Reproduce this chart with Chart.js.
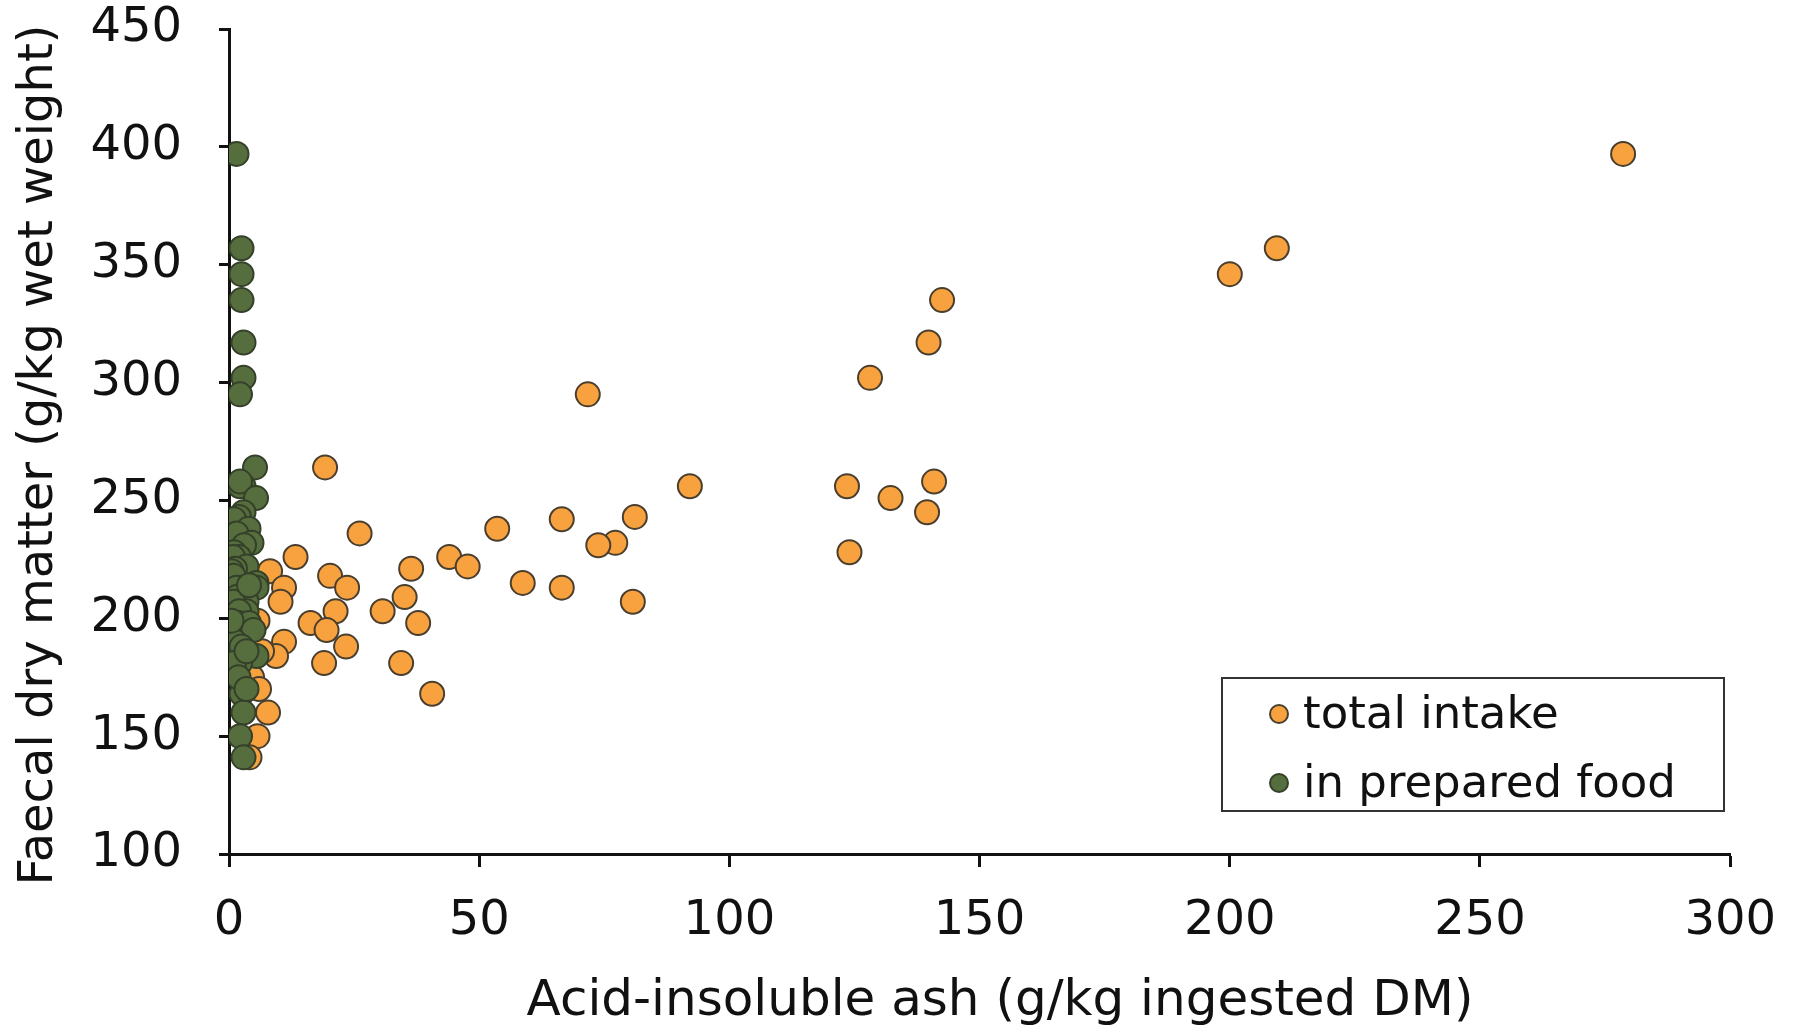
<!DOCTYPE html>
<html>
<head>
<meta charset="utf-8">
<script src="https://cdn.jsdelivr.net/npm/chart.js@4.4.1/dist/chart.umd.min.js"></script>
<style>
  body { margin: 0; background: #fff; }
  canvas { display: block; }
</style>
</head>
<body>
<canvas id="ashChart" width="1802" height="1029"></canvas>
<script>
// faecal dry matter (g/kg wet weight), one value per sample
const faecalDM = [397, 357, 346, 335, 317, 302, 295, 264, 256, 256, 258, 251, 245, 243, 242,
  238, 236, 232, 231, 228, 226, 226, 222, 221, 220, 218, 215, 213, 213, 213, 209, 207, 207,
  203, 203, 198, 198, 195, 190, 184, 188, 181, 181, 168, 186, 160, 150, 175, 199, 214, 170, 141];

// acid-insoluble ash from total intake (g/kg ingested DM)
const totalIntake = [278.6, 209.4, 200, 142.5, 139.8, 128.1, 71.7, 19.2, 92.1, 123.5, 140.9, 132.2,
  139.5, 81.1, 66.5, 53.6, 26.1, 77.2, 73.8, 124, 44, 13.3, 47.7, 36.4, 8.2, 20.2, 58.7, 66.5,
  23.6, 11, 35.1, 80.7, 10.3, 21.3, 30.7, 37.8, 16.3, 19.5, 11, 9.4, 23.4, 19, 34.4, 40.6, 6.6,
  7.8, 5.7, 4.6, 5.7, 4.4, 6, 4.1];

// acid-insoluble ash in prepared food (g/kg ingested DM)
const preparedFood = [1.5, 2.5, 2.5, 2.5, 2.9, 2.9, 2.2, 5.2, 2.9, 2.2, 2.2, 5.4, 2.9, 2.0, 1.0,
  3.9, 1.5, 4.5, 3.0, 1.0, 2.0, 0.8, 3.5, 1.2, 0.5, 0.9, 5.5, 5.5, 2.5, 1.5, 1.5, 3.5, 0.8,
  3.5, 2.0, 1.9, 4.0, 4.9, 1.2, 5.5, 2.5, 2.2, 1.0, 2.5, 3.5, 2.9, 2.2, 1.9, 0.5, 4.0, 3.5, 2.9];

const xTicks = [0, 50, 100, 150, 200, 250, 300];
const yTicks = [100, 150, 200, 250, 300, 350, 400, 450];

const seriesNames = ["total intake", "in prepared food"];
const xTitle = "Acid-insoluble ash (g/kg ingested DM)";
const yTitle = "Faecal dry matter (g/kg wet weight)";

function toPoints(xs, ys) {
  return xs.map((x, i) => ({ x: x, y: ys[i] }));
}

// boxed legend inside the plot plus both axis titles (both sit a bit off centre)
const boxLegend = {
  id: "boxLegend",
  afterDraw(chart) {
    const ctx = chart.ctx;
    ctx.save();
    ctx.fillStyle = "#fff";
    ctx.fillRect(1222, 678, 502, 133);
    ctx.strokeStyle = "#333";
    ctx.lineWidth = 2;
    ctx.strokeRect(1222, 678, 502, 133);
    ctx.font = "45px 'DejaVu Sans'";
    ctx.textBaseline = "middle";
    chart.data.datasets.forEach((ds, i) => {
      const y = 714 + i * 69;
      ctx.beginPath();
      ctx.arc(1279, y, 9, 0, Math.PI * 2);
      ctx.fillStyle = ds.backgroundColor;
      ctx.fill();
      ctx.lineWidth = 2;
      ctx.strokeStyle = ds.borderColor;
      ctx.stroke();
      ctx.fillStyle = "#111";
      ctx.fillText(ds.label, 1303, y + 2);
    });

    ctx.font = "50px 'DejaVu Sans'";
    ctx.textAlign = "center";
    ctx.fillText(xTitle, 1000, 1002);

    ctx.translate(40, 455);
    ctx.rotate(-Math.PI / 2);
    ctx.font = "48px 'DejaVu Sans'";
    ctx.fillText(yTitle, 0, 0);
    ctx.restore();
  },
};

const ctx = document.getElementById("ashChart").getContext("2d");
new Chart(ctx, {
  type: "scatter",
  data: {
    datasets: [
      {
        label: seriesNames[0],
        data: toPoints(totalIntake, faecalDM),
        backgroundColor: "#F8A23F",
        borderColor: "#4a3f2e",
        borderWidth: 2,
        pointRadius: 12,
        order: 1,
      },
      {
        label: seriesNames[1],
        data: toPoints(preparedFood, faecalDM),
        backgroundColor: "#566E3D",
        borderColor: "#34402a",
        borderWidth: 2,
        pointRadius: 12,
        order: 0,
      },
    ],
  },
  options: {
    responsive: false,
    animation: false,
    layout: { padding: { top: 29, right: 71, left: 0, bottom: 0 } },
    scales: {
      x: {
        type: "linear",
        min: 0,
        max: 300,
        afterBuildTicks: (s) => { s.ticks = xTicks.map((v) => ({ value: v })); },
        afterFit: (s) => { s.height = 175; },
        ticks: {
          font: { family: "DejaVu Sans", size: 48 },
          color: "#111",
          padding: 26,
        },
        grid: {
          drawOnChartArea: false,
          tickLength: 13,
          tickWidth: 3,
          tickColor: "#111",
        },
        border: { color: "#111", width: 3 },
      },
      y: {
        type: "linear",
        min: 100,
        max: 450,
        afterBuildTicks: (s) => { s.ticks = yTicks.map((v) => ({ value: v })); },
        afterFit: (s) => {
          s.width = 229;
          s.paddingTop = 0;
          s.paddingBottom = 0;
        },
        ticks: {
          font: { family: "DejaVu Sans", size: 48 },
          color: "#111",
          padding: 37,
        },
        grid: {
          drawOnChartArea: false,
          tickLength: 10,
          tickWidth: 3,
          tickColor: "#111",
        },
        border: { color: "#111", width: 3 },
      },
    },
    plugins: {
      legend: { display: false },
      tooltip: { enabled: false },
    },
  },
  plugins: [boxLegend],
});
</script>
</body>
</html>
